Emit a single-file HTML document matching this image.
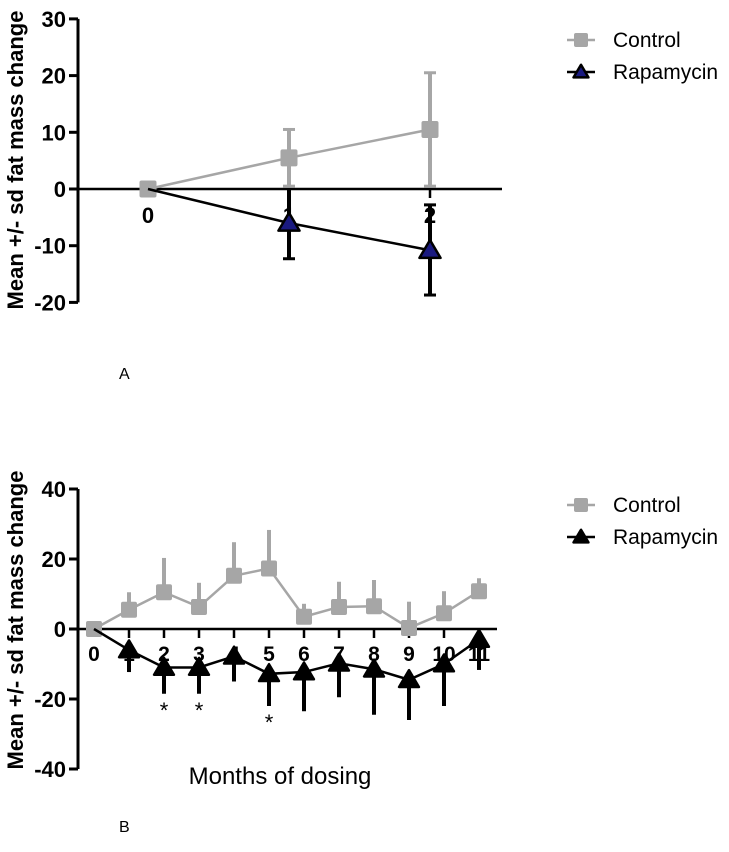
<!DOCTYPE html>
<html><head><meta charset="utf-8"><style>
html,body{margin:0;padding:0;background:#fff;}
svg{display:block;font-family:"Liberation Sans",Arial,sans-serif;}
</style></head><body>
<svg id="fig" width="729" height="852" viewBox="0 0 729 852" xmlns="http://www.w3.org/2000/svg"></svg>
<script>
// Panel A data
const aMonths = [0, 1, 2];
const aControl = [0, 5.5, 10.5];
const aControlHi = [0, 10.5, 20.5];
const aControlLo = [0, 0.5, 0.5];
const aRapa = [0, -6, -10.8];
const aRapaHi = [0, 0, -2.8];
const aRapaLo = [0, -12.3, -18.7];
const aYTicks = [30, 20, 10, 0, -10, -20];
// Panel B data
const bMonths = [0,1,2,3,4,5,6,7,8,9,10,11];
const bControl = [0, 5.5, 10.5, 6.3, 15.2, 17.3, 3.5, 6.3, 6.5, 0.3, 4.5, 10.8];
const bControlHi = [0, 10.5, 20.3, 13.2, 24.8, 28.3, 7.2, 13.5, 14, 7.8, 10.8, 14.5];
const bRapa = [0, -6, -11, -11, -7.8, -12.8, -12.3, -9.8, -11.5, -14.5, -10, -3];
const bRapaLo = [0, -12.3, -18.5, -18.5, -15, -22, -23.5, -19.5, -24.5, -26, -22, -11.7];
const bYTicks = [40, 20, 0, -20, -40];
const bStars = [2, 3, 5];

const NS = "http://www.w3.org/2000/svg";
const svg = document.getElementById('fig');
function mk(tag, attrs, parent, text){
  const e = document.createElementNS(NS, tag);
  for (const k in attrs) e.setAttribute(k, attrs[k]);
  if (text !== undefined) e.textContent = text;
  (parent || svg).appendChild(e);
  return e;
}
function square(g, cx, cy, s, fill){
  const r = mk('rect', {x:cx-s/2, y:cy-s/2, width:s, height:s, rx:2, fill:fill}, g);
  
  
  return r;
}
function tri(g, cx, cy, s, fill){
  const p = mk('polygon', {points:`${cx},${cy-s*0.6} ${cx-s*0.62},${cy+s*0.45} ${cx+s*0.62},${cy+s*0.45}`, fill:fill, stroke:'#000', 'stroke-width':2.5, 'stroke-linejoin':'round'}, g);
  
  
  return p;
}

function panel(cfg){
  const g = mk('g', {});
  
  
  const X = v => cfg.x0 + v * cfg.dx;
  const Y = v => cfg.y0 - v * cfg.dy;
  const ya = mk('line', {x1:cfg.ax, y1:Y(cfg.ymax), x2:cfg.ax, y2:Y(cfg.ymin), stroke:'#000', 'stroke-width':3}, g);
  
  
  cfg.yTicks.forEach(t => {
    const tl = mk('line', {x1:cfg.ax-9, y1:Y(t), x2:cfg.ax, y2:Y(t), stroke:'#000', 'stroke-width':3}, g);
    
    
    const tx = mk('text', {x:cfg.ax-12, y:Y(t)+8, 'text-anchor':'end', 'font-size':22, 'font-weight':'bold'}, g, String(t));
    
    
  });
  const yt = mk('text', {x:0, y:0, transform:`translate(${cfg.ytx},${cfg.yty}) rotate(-90)`, 'text-anchor':'middle', 'font-size':22, 'font-weight':'bold'}, g, 'Mean +/- sd fat mass change');
  
  
  const xa = mk('line', {x1:cfg.ax, y1:Y(0), x2:cfg.xend, y2:Y(0), stroke:'#000', 'stroke-width':2.5}, g);
  
  
  cfg.months.forEach(m => {
    if (m > 0) {
      const tk = mk('line', {x1:X(m), y1:Y(0), x2:X(m), y2:Y(0)+9, stroke:'#000', 'stroke-width':2.5}, g);
      
      
    }
    const lb = mk('text', {x:X(m), y:Y(0)+cfg.labOff, 'text-anchor':'middle', 'font-size':cfg.labSize, 'font-weight':'bold'}, g, String(m));
    
    
  });
  cfg.months.forEach((m,i) => {
    const hi = cfg.cHi[i], lo = cfg.cLo ? cfg.cLo[i] : cfg.control[i];
    if (hi === lo) return;
    const e = mk('line', {x1:X(m), y1:Y(hi), x2:X(m), y2:Y(lo), stroke:'#a6a6a6', 'stroke-width':4}, g);
    
    
    if (cfg.caps) {
      mk('line', {x1:X(m)-6, y1:Y(hi), x2:X(m)+6, y2:Y(hi), stroke:'#a6a6a6', 'stroke-width':3}, g);
      mk('line', {x1:X(m)-6, y1:Y(lo), x2:X(m)+6, y2:Y(lo), stroke:'#a6a6a6', 'stroke-width':3}, g);
    }
  });
  const cl = mk('polyline', {points:cfg.months.map((m,i)=>`${X(m)},${Y(cfg.control[i])}`).join(' '), fill:'none', stroke:'#a6a6a6', 'stroke-width':2.5}, g);
  
  
  cfg.months.forEach((m,i) => square(g, X(m), Y(cfg.control[i]), cfg.ms, '#a6a6a6'));
  cfg.months.forEach((m,i) => {
    const hi = cfg.rHi ? cfg.rHi[i] : cfg.rapa[i], lo = cfg.rLo[i];
    if (hi === lo) return;
    const e = mk('line', {x1:X(m), y1:Y(hi), x2:X(m), y2:Y(lo), stroke:'#000', 'stroke-width':4}, g);
    
    
    if (cfg.caps) {
      mk('line', {x1:X(m)-6, y1:Y(lo), x2:X(m)+6, y2:Y(lo), stroke:'#000', 'stroke-width':3}, g);
      if (hi !== 0) mk('line', {x1:X(m)-6, y1:Y(hi), x2:X(m)+6, y2:Y(hi), stroke:'#000', 'stroke-width':3}, g);
    }
  });
  const rl = mk('polyline', {points:cfg.months.map((m,i)=>`${X(m)},${Y(cfg.rapa[i])}`).join(' '), fill:'none', stroke:'#000', 'stroke-width':2.5}, g);
  
  
  cfg.months.forEach((m,i) => { if (m>0) tri(g, X(m), Y(cfg.rapa[i]), cfg.ms, cfg.triFill); });
  const lg = mk('g', {}, g);
  
  
  const e1 = mk('g', {}, lg);
  
  
  mk('line', {x1:567, y1:cfg.ly, x2:595, y2:cfg.ly, stroke:'#a6a6a6', 'stroke-width':2.5}, e1);
  square(e1, 581, cfg.ly, 14, '#a6a6a6');
  mk('text', {x:613, y:cfg.ly+7, 'font-size':21}, e1, 'Control');
  const e2 = mk('g', {}, lg);
  
  
  mk('line', {x1:567, y1:cfg.ly+32, x2:595, y2:cfg.ly+32, stroke:'#000', 'stroke-width':2.5}, e2);
  tri(e2, 581, cfg.ly+32, 12, cfg.triFill);
  mk('text', {x:613, y:cfg.ly+39, 'font-size':21}, e2, 'Rapamycin');
  return {g, X, Y};
}

const A = panel({name:'panel-a-chart', months:aMonths, control:aControl, cHi:aControlHi, cLo:aControlLo,
  rapa:aRapa, rHi:aRapaHi, rLo:aRapaLo, yTicks:aYTicks, ymax:30, ymin:-20,
  x0:148, dx:141, y0:189, dy:5.67, ax:78, xend:502, ytx:23, yty:160, labOff:34, labSize:22,
  ms:17, caps:true, triFill:'#1a1a80', ly:40});
const B = panel({name:'panel-b-chart', months:bMonths, control:bControl, cHi:bControlHi, cLo:null,
  rapa:bRapa, rHi:null, rLo:bRapaLo, yTicks:bYTicks, ymax:40, ymin:-40,
  x0:94, dx:35, y0:629, dy:3.5, ax:78, xend:497, ytx:23, yty:620, labOff:32, labSize:21,
  ms:16, caps:false, triFill:'#000', ly:505});
bStars.forEach(m => {
  const i = bMonths.indexOf(m);
  const s = mk('text', {x:B.X(m), y:B.Y(bRapaLo[i])+24, 'text-anchor':'middle', 'font-size':22}, B.g, '*');
  
  
});
const xt = mk('text', {x:280, y:784, 'text-anchor':'middle', 'font-size':24}, B.g, 'Months of dosing');


const la = mk('text', {x:119, y:379, 'font-size':16}, svg, 'A');


const lb = mk('text', {x:119, y:832, 'font-size':16}, svg, 'B');


</script>
</body></html>
